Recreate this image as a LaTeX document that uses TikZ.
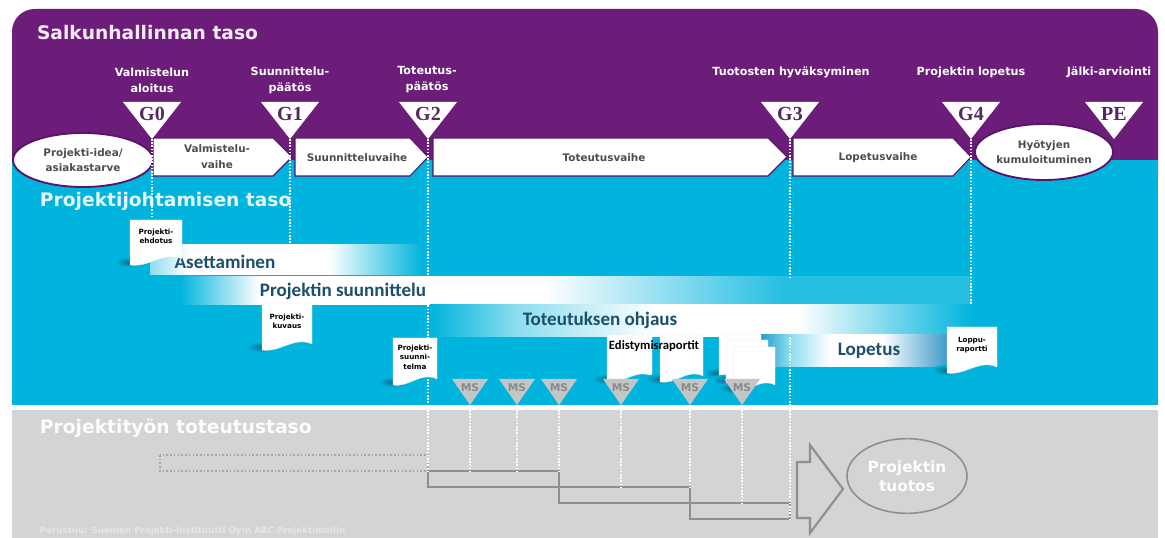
\documentclass[tikz,border=0pt]{standalone}
\usepackage{fontspec}
\setmainfont{DejaVu Sans}
\newfontfamily\carlito{Carlito}
\newfontfamily\gatefont{Liberation Serif}
\usetikzlibrary{shapes.geometric}

\definecolor{purp}{HTML}{6C1D7A}
\definecolor{purpline}{HTML}{5A1468}
\definecolor{cyanbg}{HTML}{00B4DD}
\definecolor{cyandark}{HTML}{1596C3}
\definecolor{steel}{HTML}{3F9CC9}
\colorlet{cyanlight}{cyanbg!85!white}
\colorlet{cyanhalf}{cyanbg!45!white}
\definecolor{greybg}{HTML}{D3D4D6}
\definecolor{phasetext}{HTML}{4D4D4D}
\definecolor{gatetext}{HTML}{55285F}
\definecolor{bartext}{HTML}{1B4F6B}
\definecolor{msfill}{HTML}{C4C5C7}
\definecolor{mstext}{HTML}{8A8A8A}
\definecolor{stepline}{HTML}{8E8F91}
\definecolor{docshade}{HTML}{0A6A8E}
\definecolor{titlepurp}{HTML}{F3EAF6}
\definecolor{titlecyan}{HTML}{E4F6FC}
\definecolor{footgrey}{HTML}{E6E7E8}

% horizontal colour ramps of the activity bars (25bp..75bp spans the bar)
\pgfdeclarehorizontalshading{barSet}{100bp}{color(0bp)=(cyanhalf); color(25bp)=(cyanhalf); color(32bp)=(white); color(57bp)=(white); color(74bp)=(cyanbg); color(100bp)=(cyanbg)}
\pgfdeclarehorizontalshading{barPlan}{100bp}{color(0bp)=(cyanbg); color(25bp)=(cyanbg); color(30bp)=(white); color(48bp)=(white); color(63bp)=(cyanlight); color(100bp)=(cyanlight)}
\pgfdeclarehorizontalshading{barExec}{100bp}{color(0bp)=(cyanbg); color(25bp)=(cyanbg); color(33bp)=(cyanhalf); color(46bp)=(white); color(59bp)=(white); color(75bp)=(cyanbg); color(100bp)=(cyanbg)}
\pgfdeclarehorizontalshading{barClose}{100bp}{color(0bp)=(cyandark); color(25bp)=(cyandark); color(33.7bp)=(cyanhalf); color(44bp)=(white); color(58bp)=(white); color(75bp)=(steel); color(100bp)=(steel)}

% a sheet of paper with a wavy lower edge and a soft shadow
\newcommand\docpaper[4]{%
  \shade[inner color=docshade, outer color=cyanbg] (#1,{#4-3}) ellipse [x radius=11pt, y radius=4pt];
  \fill[white, draw=black!10, line width=0.3pt] (#1,#2) -- (#3,#2) -- (#3,{#4-6})
    .. controls ({#3-0.35*(#3-#1)},{#4-14}) and ({#1+0.35*(#3-#1)},{#4+3}) .. (#1,#4) -- cycle;
}

\begin{document}
\begin{tikzpicture}[x=0.75pt,y=-0.75pt,
  every node/.style={inner sep=0pt, outer sep=0pt},
  bandtitle/.style={anchor=base west, font=\bfseries\fontsize{14}{16}\selectfont},
  gatelabel/.style={text=white, align=center, font=\bfseries\fontsize{8.4}{12}\selectfont},
  gatetxt/.style={text=gatetext, font=\gatefont\bfseries\fontsize{15}{16}\selectfont},
  phase/.style={fill=white, draw=purpline, line width=0.8pt},
  phasetxt/.style={text=phasetext, align=center, font=\bfseries\fontsize{7.8}{12}\selectfont},
  ovalbox/.style={ellipse, fill=white, draw=purpline, line width=1.4pt, text=phasetext, align=center, font=\bfseries\fontsize{7.8}{11}\selectfont},
  bartxt/.style={text=bartext, font=\carlito\bfseries\fontsize{14.3}{16}\selectfont},
  doctxt/.style={text=black, align=center, font=\bfseries\fontsize{5.4}{7}\selectfont},
  progtxt/.style={text=black, font=\carlito\bfseries\fontsize{9.5}{11}\selectfont},
  mstxt/.style={text=mstext, font=\bfseries\fontsize{8}{9}\selectfont},
  gateline/.style={white, line width=0.9pt, dash pattern=on 1.2pt off 1.2pt},
  workline/.style={white!92!greybg, line width=0.8pt, dash pattern=on 1.2pt off 1.2pt},
  steprect/.style={draw=stepline, line width=1.6pt},
  dotrect/.style={draw=stepline!80!white, line width=1.4pt, dash pattern=on 1.2pt off 1.6pt},
  outcome/.style={ellipse, draw=stepline, line width=1.2pt, minimum width=90pt, minimum height=56pt, text=white!96!greybg, align=center, font=\bfseries\fontsize{11.5}{14}\selectfont}
]
\useasboundingbox (0,0) rectangle (1165,538);

% the three levels
\fill[purp, rounded corners=17pt] (12,200) -- (12,9) -- (1158,9) -- (1158,200) -- cycle;
\fill[cyanbg] (12,160) rectangle (1158,405);
\fill[greybg] (12,410) rectangle (1158,538);

\node[bandtitle, text=titlepurp] (tportfolio) at (37,40) {Salkunhallinnan taso};
\node[bandtitle, text=titlecyan] (tproject) at (40,207) {Projektijohtamisen taso};
\node[bandtitle, text=white!94!greybg] (twork) at (40,434) {Projektityön toteutustaso};

% phases
\node[ovalbox, minimum width=105pt, minimum height=40.5pt] (idea) at (83,160) {Projekti-idea/\\asiakastarve};
\draw[phase] (153,138) -- (273,138) -- (292,157) -- (273,176) -- (153,176) -- cycle;
\node[phasetxt] (pprep) at (217,157) {Valmistelu-\\vaihe};
\draw[phase] (295,138) -- (410,138) -- (428,157) -- (410,176) -- (295,176) -- cycle;
\node[phasetxt] (pplan) at (357,158) {Suunnitteluvaihe};
\draw[phase] (433,138) -- (768,138) -- (787,157) -- (768,176) -- (433,176) -- cycle;
\node[phasetxt] (pexec) at (604,158) {Toteutusvaihe};
\draw[phase] (793,138) -- (953,138) -- (971,157) -- (953,176) -- (793,176) -- cycle;
\node[phasetxt] (pclose) at (878,158) {Lopetusvaihe};
\node[ovalbox, minimum width=103.5pt, minimum height=42pt] (benefit) at (1044,152) {Hyötyjen\\kumuloituminen};

% decision gates
\foreach \gx/\gl/\gn in {152/G0/g0, 290/G1/g1, 428/G2/g2, 790/G3/g3, 971/G4/g4, 1114/PE/pe} {
  \fill[white] ({\gx-29},102) -- ({\gx+29},102) -- (\gx,139) -- cycle;
  \coordinate (apex\gn) at (\gx,139);
  \node[gatetxt] (\gn) at (\gx,114) {\gl};
}
\node[gatelabel] (lg0) at (152,80) {Valmistelun\\aloitus};
\node[gatelabel] (lg1) at (290,80) {Suunnittelu-\\päätös};
\node[gatelabel] (lg2) at (427,80) {Toteutus-\\päätös};
\node[gatelabel] (lg3) at (791,72) {Tuotosten hyväksyminen};
\node[gatelabel] (lg4) at (971,72) {Projektin lopetus};
\node[gatelabel] (lpe) at (1109,72) {Jälki-arviointi};

% management activities
\shade[shading=barSet] (150,245) rectangle (428,275);
\shade[shading=barPlan] (180,277) rectangle (972,305);
\shade[shading=barExec] (430,305) rectangle (972,337);
\shade[shading=barClose] (757,335) rectangle (947,367);
\node[bartxt] (aset) at (225,262) {Asettaminen};
\node[bartxt] (suun) at (343,291) {Projektin suunnittelu};
\node[bartxt] (ohj) at (600,320) {Toteutuksen ohjaus};
\node[bartxt] (lop) at (869,351) {Lopetus};

% gate guide lines
\draw[gateline] (apexg0) -- (152,216);
\draw[gateline] (apexg1) -- (290,245);
\draw[gateline] (apexg2) -- (428,405);
\draw[gateline] (apexg3) -- (790,277);
\draw[gateline] (790,337) -- (790,405);
\draw[gateline] (apexg4) -- (971,305);

% documents
\docpaper{130}{220}{182}{265}
\node[doctxt] (dproposal) at (156,236) {Projekti-\\ehdotus};
\docpaper{262}{303}{312}{350}
\node[doctxt] (ddesc) at (287,321) {Projekti-\\kuvaus};
\docpaper{393}{338}{437}{385}
\node[doctxt] (dplan) at (415,357) {Projekti-\\suunni-\\telma};
\docpaper{607}{335}{652}{382}
\docpaper{660}{335}{703}{382}
\node[progtxt] (dprogress) at (654,346) {Edistymisraportit};
\docpaper{719}{334}{761}{376}
\docpaper{726}{340}{768}{383}
\docpaper{733}{347}{775}{391}
\docpaper{947}{327}{997}{373}
\node[doctxt] (dfinal) at (972,345) {Loppu-\\raportti};

% milestones
\foreach \mx [count=\i] in {470,517,559,621,690,742} {
  \fill[msfill] ({\mx-18},379) -- ({\mx+18},379) -- (\mx,405) -- cycle;
  \node[mstxt] (ms\i) at (\mx,388) {MS};
}

% work level
\draw[dotrect] (160,455) rectangle (428,471);
\draw[steprect] (428,471) rectangle (559,487);
\draw[steprect] (559,487) rectangle (690,503);
\draw[steprect] (690,503) rectangle (790,519);
\foreach \mx/\my in {470/471,517/471,559/471,621/487,690/487,742/503}
  \draw[workline] (\mx,410) -- (\mx,\my);
\draw[gateline] (428,410) -- (428,471);
\draw[gateline] (790,410) -- (790,519);
\draw[steprect] (797,462) -- (810,462) -- (810,445) -- (843,489) -- (810,533) -- (810,518) -- (797,518) -- cycle;
\node[outcome] (output) at (907,476) {Projektin\\tuotos};

\node[anchor=west, text=footgrey, font=\bfseries\fontsize{6.5}{8}\selectfont] (credit) at (40,531) {Perustuu: Suomen Projekti-Instituutti Oy:n ABC Projektimallin};
\end{tikzpicture}
\end{document}
